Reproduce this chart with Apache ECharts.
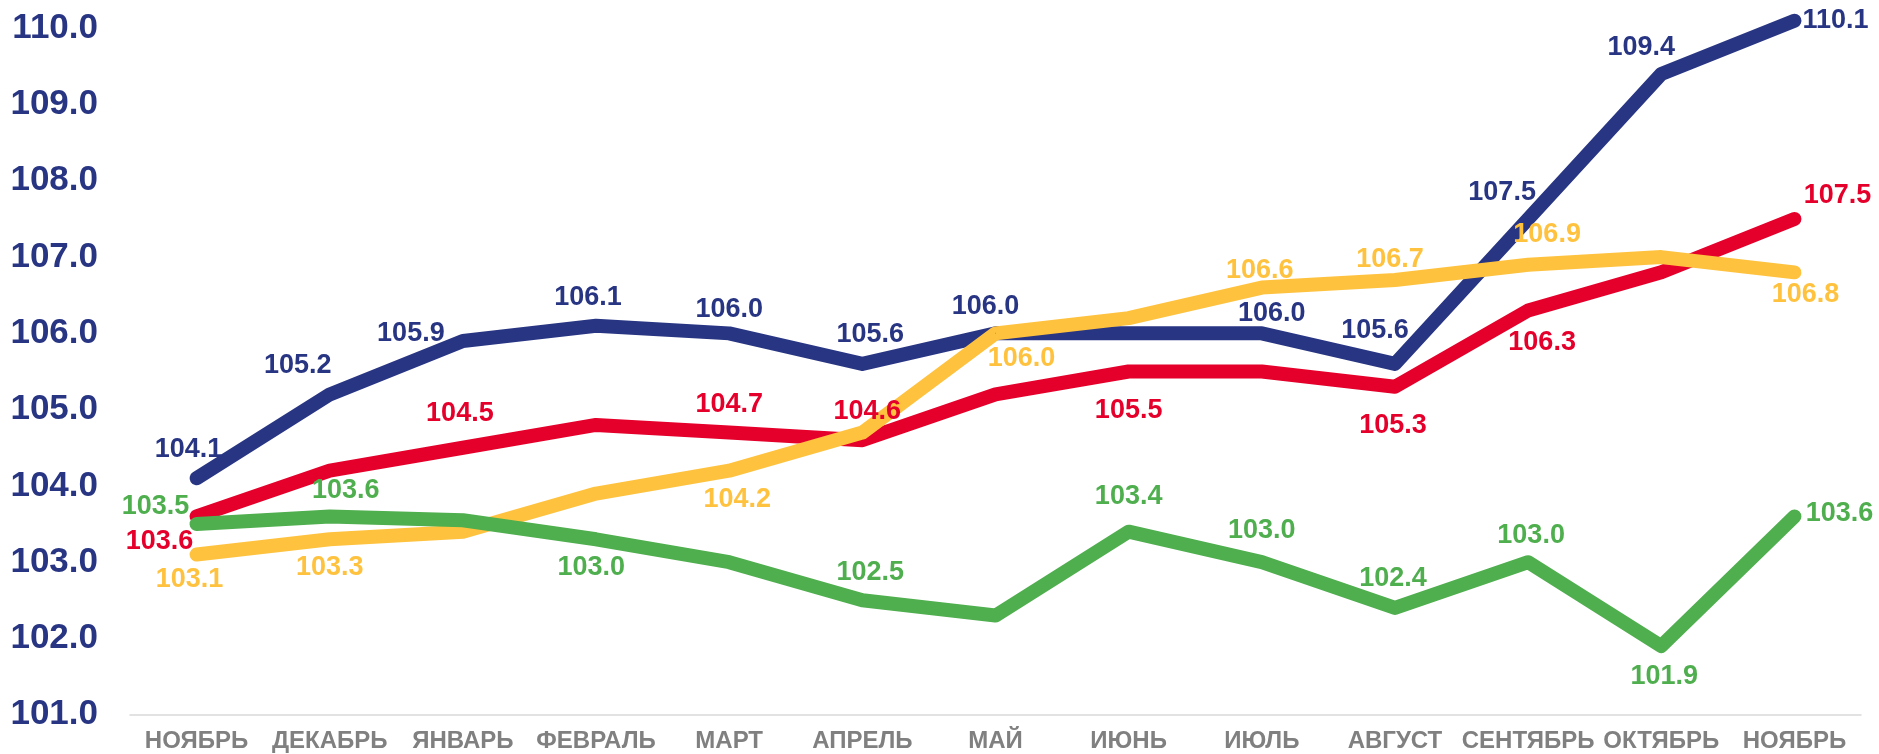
<!DOCTYPE html>
<html>
<head>
<meta charset="utf-8">
<script src="https://cdn.jsdelivr.net/npm/echarts@6/dist/echarts.min.js"></script>
<style>
  html, body { margin: 0; padding: 0; background: #fff; }
  #chart { width: 1879px; height: 754px; }
</style>
</head>
<body>
<div id="chart"></div>
<script>
// категории (месяцы)
const months = ['НОЯБРЬ', 'ДЕКАБРЬ', 'ЯНВАРЬ', 'ФЕВРАЛЬ', 'МАРТ', 'АПРЕЛЬ', 'МАЙ',
  'ИЮНЬ', 'ИЮЛЬ', 'АВГУСТ', 'СЕНТЯБРЬ', 'ОКТЯБРЬ', 'НОЯБРЬ'];

// значения рядов
const blueValues = [104.1, 105.2, 105.9, 106.1, 106.0, 105.6, 106.0, 106.0, 106.0, 105.6, 107.5, 109.4, 110.1];
const redValues = [103.6, 104.2, 104.5, 104.8, 104.7, 104.6, 105.2, 105.5, 105.5, 105.3, 106.3, 106.8, 107.5];
const yellowValues = [103.1, 103.3, 103.4, 103.9, 104.2, 104.7, 106.0, 106.2, 106.6, 106.7, 106.9, 107.0, 106.8];
const greenValues = [103.5, 103.6, 103.55, 103.3, 103.0, 102.5, 102.3, 103.4, 103.0, 102.4, 103.0, 101.9, 103.6];

// ось Y
const yMin = 101;
const yMax = 110;
const yStep = 1;

const FONT = "'Liberation Sans', Arial, sans-serif";

// подписи: индекс точки -> смещение подписи от точки
const blueLabels = {
  0: [-8, -29], 1: [-32, -29], 2: [-52, -7], 3: [-8, -28], 4: [0, -24], 5: [8, -29],
  6: [-10, -27], 8: [10, -20], 9: [-20, -33], 10: [-26, -26], 11: [-20, -27], 12: [41, 0]
};
const redLabels = {
  0: [-37, 25], 2: [-3, -34], 4: [0, -28], 5: [5, -29], 7: [0, 39], 9: [-2, 39],
  10: [14, 32], 12: [43, -23]
};
const yellowLabels = {
  0: [-7, 25], 1: [0, 28], 4: [8, 29], 6: [26, 25], 8: [-2, -17], 9: [-5, -20],
  10: [19, -30], 12: [11, 22]
};
const greenLabels = {
  0: [-41, -17], 1: [16, -26], 4: [-138, 5], 5: [8, -28], 7: [0, -35], 8: [0, -32],
  9: [-2, -29], 10: [3, -27], 11: [3, 30], 12: [45, -3]
};

function makeSeries(name, values, color, labels) {
  return {
    name: name,
    type: 'line',
    clip: false,
    symbol: 'circle',
    symbolSize: 1,
    showSymbol: true,
    itemStyle: { color: color },
    lineStyle: { color: color, width: 14, cap: 'round', join: 'round' },
    data: values.map(function (v, i) {
      const off = labels[i];
      return {
        value: v,
        label: off ? {
          show: true,
          position: 'inside',
          offset: off,
          color: color,
          fontFamily: FONT,
          fontWeight: 'bold',
          fontSize: 27,
          formatter: function (p) { return p.value.toFixed(1); }
        } : { show: false }
      };
    })
  };
}

const chart = echarts.init(document.getElementById('chart'));
chart.setOption({
  animation: false,
  backgroundColor: '#fff',
  grid: { left: 130, right: 18, top: 28.3, bottom: 39.3 },
  xAxis: {
    type: 'category',
    data: months,
    boundaryGap: true,
    axisTick: { show: false },
    axisLine: { lineStyle: { color: '#d9d9d9', width: 1.5 } },
    axisLabel: {
      interval: 0,
      margin: 15,
      color: '#808080',
      fontFamily: FONT,
      fontWeight: 'bold',
      fontSize: 24
    }
  },
  yAxis: {
    type: 'value',
    min: yMin,
    max: yMax,
    interval: yStep,
    splitLine: { show: false },
    axisLine: { show: false },
    axisTick: { show: false },
    axisLabel: {
      margin: 32,
      color: '#283583',
      fontFamily: FONT,
      fontWeight: 'bold',
      fontSize: 35,
      formatter: function (v) { return v.toFixed(1); }
    }
  },
  series: [
    makeSeries('blue', blueValues, '#283583', blueLabels),
    makeSeries('red', redValues, '#E4002B', redLabels),
    makeSeries('yellow', yellowValues, '#FFC23F', yellowLabels),
    makeSeries('green', greenValues, '#4FAE4E', greenLabels)
  ]
});
</script>
</body>
</html>
